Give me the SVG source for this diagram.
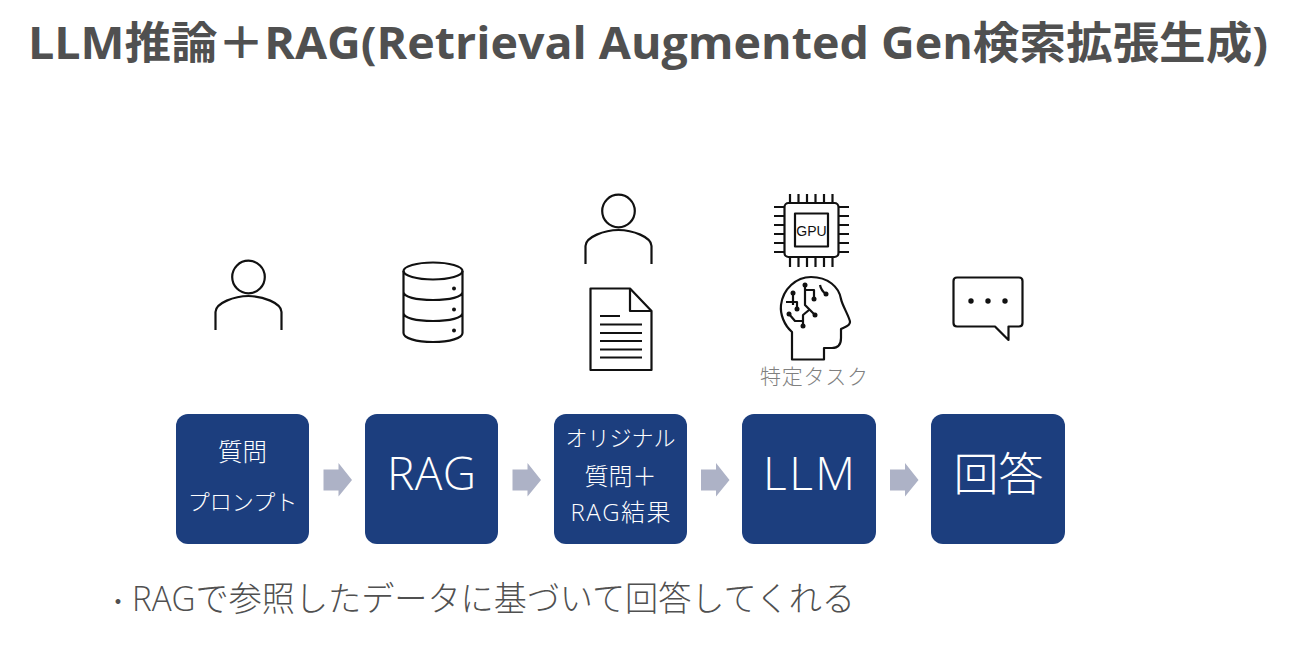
<svg xmlns="http://www.w3.org/2000/svg" width="1297" height="671" viewBox="0 0 1297 671">
<style>
text{font-family:"Open Sans","Noto Sans CJK JP",sans-serif}
.t{fill:#fff;text-anchor:middle;font-weight:300}
.box{fill:#1c3e7e}
.arr{fill:#adb2c6}
.ic{fill:none;stroke:#111;stroke-width:2.2;stroke-linejoin:round;stroke-linecap:butt}
.d{fill:#111}
</style>
<defs>
<g id="person"><circle cx="0" cy="-20" r="16.3" class="ic"/><path class="ic" d="M-33 33V15C-33 6-14-1 0-1S33 6 33 15V33"/></g>
</defs>
<rect width="1297" height="671" fill="#fff"/>
<text x="28" y="59" font-size="44" font-weight="700" fill="#505050" textLength="1240" lengthAdjust="spacingAndGlyphs">LLM推論＋RAG(Retrieval Augmented Gen検索拡張生成)</text>

<g id="connectors">
<path class="arr" d="M323.500 469.500H338.500V463L352 480L338.500 496.500V490.500H323.500Z"/>
<path class="arr" d="M512.500 469.500H527.500V463L541 480L527.500 496.500V490.500H512.500Z"/>
<path class="arr" d="M701 469.500H716V463L729.500 480L716 496.500V490.500H701Z"/>
<path class="arr" d="M890 469.500H905V463L918.500 480L905 496.500V490.500H890Z"/>
</g>

<g id="node-question">
<rect class="box" x="176" y="414" width="133" height="130" rx="12"/>
<text class="t" x="242.500" y="461" font-size="24.500">質問</text>
<text class="t" x="242.500" y="510" font-size="22">プロンプト</text>
<use href="#person" x="248.500" y="297"/>
</g>
<g id="node-rag">
<rect class="box" x="365" y="414" width="133" height="130" rx="12"/>
<text class="t" x="431.500" y="490" font-size="46" textLength="89">RAG</text>
<g class="ic"><ellipse cx="433" cy="271" rx="29.500" ry="8.500"/><path d="M403.500 271V333C403.500 338 416 342 433 342S462.500 338 462.500 333V271M403.500 292C403.500 297 416 300 433 300S462.500 297 462.500 292M403.500 313C403.500 318 416 321 433 321S462.500 318 462.500 313"/></g>
<circle class="d" cx="454" cy="288.500" r="2"/><circle class="d" cx="454" cy="309.500" r="2"/><circle class="d" cx="454" cy="330.500" r="2"/>
</g>
<g id="node-original">
<rect class="box" x="554" y="414" width="133" height="130" rx="12"/>
<text class="t" x="620.500" y="446" font-size="22">オリジナル</text>
<text class="t" x="620.500" y="485" font-size="24">質問＋</text>
<text class="t" x="620.500" y="521" font-size="24" textLength="100">RAG結果</text>
<use href="#person" x="618.500" y="231"/>
<path class="ic" d="M590.500 288.500H630L651.500 311V370H590.500ZM630 288.500V311H651.500"/>
<path class="ic" d="M600 316H620M600 324.500H642M600 333H642M600 341H642M600 349.500H642M600 357.500H642" stroke-width="1.800"/>
</g>
<g id="node-llm">
<rect class="box" x="742" y="414" width="134" height="130" rx="12"/>
<text class="t" x="809" y="490" font-size="46" textLength="92">LLM</text>
<rect class="ic" x="784.500" y="203" width="54" height="54" rx="4"/>
<rect class="ic" x="795" y="213.500" width="33" height="33" stroke-width="2.500"/>
<text x="811.500" y="236" font-size="14" text-anchor="middle" fill="#111" style="font-family:'Liberation Sans',sans-serif">GPU</text>
<path class="ic" stroke-width="1.800" d="M790 194V203M798.500 194V203M807 194V203M815.500 194V203M824 194V203M832.500 194V203M790 257V267M798.500 257V267M807 257V267M815.500 257V267M824 257V267M832.500 257V267M774 207H784.500M774 216H784.500M774 225H784.500M774 234H784.500M774 243H784.500M774 252H784.500M838.500 207H849M838.500 216H849M838.500 225H849M838.500 234H849M838.500 243H849M838.500 252H849"/>
<path class="ic" stroke-width="2.400" d="M792 359.500V332C784 325 780 314 781 305C783 289 796 277 811 277C828 277 839 287 841 299C842 305 850 318 850 322C850 326 845 327 841 329V338C841 344 838 348 832 348H824V359.500Z"/>
<g class="ic" stroke-width="1.800"><path d="M805 285V305L815 315M805 290H814V299M793 293V305M786 302H797V309M789 314L795 321H803M803 326V315L809 310"/><path d="M820 285C821 290 823 292 826 294"/></g>
<g class="d"><circle cx="805" cy="285" r="2.500"/><circle cx="814" cy="299" r="2.500"/><circle cx="793" cy="293" r="2.500"/><circle cx="797" cy="309" r="2.500"/><circle cx="815" cy="315" r="2.500"/><circle cx="789" cy="314" r="2.500"/><circle cx="803" cy="326" r="2.500"/><circle cx="826" cy="294" r="2.500"/></g>
<text x="814" y="384" font-size="21" text-anchor="middle" fill="#808080" textLength="108" font-weight="300">特定タスク</text>
</g>
<g id="node-answer">
<rect class="box" x="931" y="414" width="134" height="130" rx="12"/>
<text class="t" x="998.500" y="491" font-size="45">回答</text>
<path class="ic" d="M957 277.500H1019C1021 277.500 1022.500 279 1022.500 281V323C1022.500 325 1021 326.500 1019 326.500H1008.500V340L995 326.500H957C955 326.500 953.500 325 953.500 323V281C953.500 279 955 277.500 957 277.500Z"/>
<circle class="d" cx="971" cy="301" r="2.700"/><circle class="d" cx="988" cy="301" r="2.700"/><circle class="d" cx="1005" cy="301" r="2.700"/>
</g>
<text y="611" font-size="34" fill="#505050" font-weight="300"><tspan x="105" font-size="26">・</tspan><tspan x="132" textLength="723" lengthAdjust="spacingAndGlyphs">RAGで参照したデータに基づいて回答してくれる</tspan></text>
</svg>
